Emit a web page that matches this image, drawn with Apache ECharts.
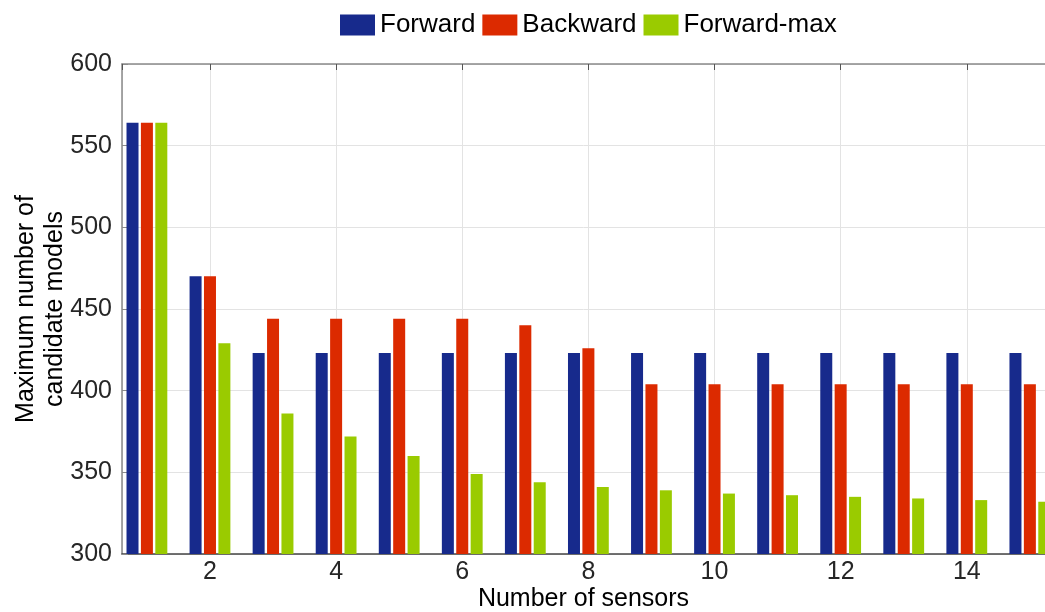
<!DOCTYPE html>
<html>
<head>
<meta charset="utf-8">
<script src="https://cdn.jsdelivr.net/npm/echarts@6/dist/echarts.min.js"></script>
<style>
html,body{margin:0;padding:0;background:#fff;}
#chart{width:1045px;height:612px;}
</style>
</head>
<body>
<div id="chart"></div>
<script>
const sensors = [1, 2, 3, 4, 5, 6, 7, 8, 9, 10, 11, 12, 13, 14, 15];
const forward = [564, 470, 423, 423, 423, 423, 423, 423, 423, 423, 423, 423, 423, 423, 423];
const backward = [564, 470, 444, 444, 444, 444, 440, 426, 404, 404, 404, 404, 404, 404, 404];
const forwardMax = [564, 429, 386, 372, 360, 349, 344, 341, 339, 337, 336, 335, 334, 333, 332];
const seriesNames = ['Forward', 'Backward', 'Forward-max'];
const yTicks = [300, 350, 400, 450, 500, 550, 600];

const colors = ['#172a8c', '#dc2a00', '#9acb00'];
const FONT = 'Liberation Sans';

function pairs(vals) { return sensors.map((s, i) => [s, vals[i]]); }

const chart = echarts.init(document.getElementById('chart'), null, {renderer: 'canvas'});

const xBase = {
  type: 'value',
  min: 0.605,
  max: 15.24,
  minInterval: 2,
  maxInterval: 2,
  splitNumber: 7,
};

const option = {
  animation: false,
  backgroundColor: '#ffffff',
  color: colors,
  legend: {
    top: 7,
    left: 335,
    itemWidth: 35,
    itemHeight: 21,
    itemGap: 7,
    icon: 'rect',
    textStyle: {fontFamily: FONT, fontSize: 26, color: '#000'},
    data: seriesNames
  },
  grid: {left: 122, right: 0, top: 64, bottom: 58, containLabel: false, outerBoundsMode: 'none'},
  xAxis: [
    Object.assign({}, xBase, {
      position: 'bottom',
      name: 'Number of sensors',
      nameLocation: 'middle',
      nameGap: 33,
      nameMoveOverlap: false,
      nameTextStyle: {fontFamily: FONT, fontSize: 25, color: '#000'},
      axisLine: {show: true, lineStyle: {color: '#444', width: 1.5}},
      axisTick: {show: true, inside: true, length: 6, lineStyle: {color: '#444'}},
      axisLabel: {
        fontFamily: FONT, fontSize: 25, color: '#262626', margin: 6,
        showMinLabel: false, showMaxLabel: false,
        formatter: v => (Math.abs(v - Math.round(v)) < 1e-6 ? String(Math.round(v)) : '')
      },
      splitLine: {show: true, lineStyle: {color: '#e3e3e3', width: 1}}
    }),
    Object.assign({}, xBase, {
      position: 'top',
      axisLine: {show: true, lineStyle: {color: '#8a8a8a', width: 1.5}},
      axisTick: {show: true, inside: true, length: 6, lineStyle: {color: '#555'}},
      axisLabel: {show: false},
      splitLine: {show: false}
    })
  ],
  yAxis: {
    type: 'value',
    min: yTicks[0],
    max: yTicks[yTicks.length - 1],
    interval: 50,
    name: 'Maximum number of\ncandidate models',
    nameLocation: 'middle',
    nameRotate: 90,
    nameGap: 52,
    nameMoveOverlap: false,
    nameTextStyle: {fontFamily: FONT, fontSize: 25, color: '#000', lineHeight: 29},
    axisLine: {show: true, lineStyle: {color: '#8a8a8a', width: 1.5}},
    axisTick: {show: true, inside: true, length: 6, lineStyle: {color: '#8a8a8a'}},
    axisLabel: {fontFamily: FONT, fontSize: 25, color: '#262626', margin: 10},
    splitLine: {show: true, lineStyle: {color: '#e3e3e3', width: 1}}
  },
  series: [
    {name: seriesNames[0], type: 'bar', xAxisIndex: 0, data: pairs(forward), barWidth: 12, barGap: '20%'},
    {name: seriesNames[1], type: 'bar', xAxisIndex: 0, data: pairs(backward), barWidth: 12, barGap: '20%'},
    {name: seriesNames[2], type: 'bar', xAxisIndex: 0, data: pairs(forwardMax), barWidth: 12, barGap: '20%'}
  ]
};
chart.setOption(option);
</script>
</body>
</html>
